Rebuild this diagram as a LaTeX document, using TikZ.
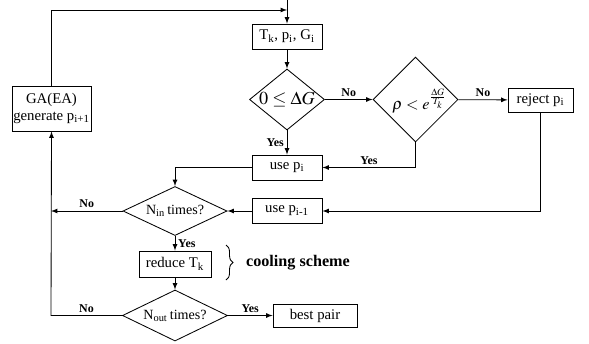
\documentclass[tikz,border=0pt]{standalone}
\usepackage{mathptmx}
\usepackage{fontspec}
\setmainfont{Liberation Serif}
\usetikzlibrary{arrows,shapes.geometric,decorations.pathreplacing}

\begin{document}
\begin{tikzpicture}[>=latex,x=0.025cm,y=-0.025cm,line width=0.6pt,
  box/.style={draw,inner sep=0pt,font=\fontsize{10.5}{12}\selectfont},
  test/.style={draw,diamond,inner sep=0pt,font=\fontsize{10.5}{12}\selectfont},
  lab/.style={font=\fontsize{8.5}{10}\selectfont\bfseries,inner sep=2pt}]

\useasboundingbox (0,0) rectangle (589,343);

\coordinate (entry) at (287,0);
\coordinate (join) at (287,10);

\node[box,minimum width=1.75cm,minimum height=0.625cm] (tpg) at (287,36.5)
  {T\textsubscript{k}, p\textsubscript{i}, G\textsubscript{i}};
\node[test,minimum width=1.875cm,minimum height=1.525cm,
  label={[font=\fontsize{13}{15}\selectfont]center:$0\le\Delta G$}] (zero) at (287,99.5) {};
\node[test,minimum width=2.125cm,minimum height=2.125cm,
  label={[font=\fontsize{11.5}{13}\selectfont,xshift=0.1cm,yshift=-0.05cm]center:$\rho<e^{\frac{\Delta G}{T_k}}$}] (rho) at (415.5,99.5) {};
\node[box,minimum width=1.625cm,minimum height=0.6cm] (reject) at (540.5,100) {reject p\textsubscript{i}};
\node[box,minimum width=1.75cm,minimum height=0.625cm] (usei) at (287,167.5) {use p\textsubscript{i}};
\node[box,minimum width=1.75cm,minimum height=0.625cm] (useim) at (287,211) {use p\textsubscript{i-1}};
\node[box,minimum width=1.975cm,minimum height=1.125cm,align=center] (ga) at (51.5,108.5)
  {GA(EA)\\generate p\textsubscript{i+1}};
\node[test,minimum width=2.6cm,minimum height=1.225cm,
  label=center:{N\textsubscript{in}\,times?}] (nin) at (175,211) {};
\node[box,minimum width=1.8cm,minimum height=0.65cm] (reduce) at (175,264) {reduce T\textsubscript{k}};
\node[test,minimum width=2.625cm,minimum height=1.275cm,
  label=center:{N\textsubscript{out}\,times?}] (nout) at (175,315.5) {};
\node[box,minimum width=2.1cm,minimum height=0.575cm] (best) at (315,315.5) {best pair};

\coordinate (back) at (51,211);

% main loop
\draw[->] (entry) -- (tpg);
\draw[->] (ga.north) |- (join);
\draw[->] (tpg) -- (zero);
\draw[->] (zero) -- node[lab,above] {No} (rho);
\draw[->] (rho) -- node[lab,above] {No} (reject);
\draw[->] (zero) -- node[lab,left] {Yes} (usei);
\draw[->] (rho.south) |- node[lab,above,pos=0.75] {Yes} (usei.east);
\draw[->] (reject.south) |- (useim.east);
\draw[->] (usei.west) -| (nin.north);
\draw[->] (useim) -- (nin);
\draw[->] (nin) -- node[lab,above] {No} (back);
\draw[->] (nin) -- node[lab,right] {Yes} (reduce);
\draw[->] (reduce) -- (nout);
\draw[->] (nout) -- node[lab,above] {Yes} (best);
\draw[->] (nout.west) -- node[lab,above] {No} (51,315.5) -- (ga.south);

% cooling
\draw[decorate,decoration={brace,amplitude=5pt}] (226,245) -- (226,280);
\node[anchor=west,font=\fontsize{11.5}{13}\selectfont\bfseries] (cool) at (241,263) {cooling scheme};

\end{tikzpicture}
\end{document}
